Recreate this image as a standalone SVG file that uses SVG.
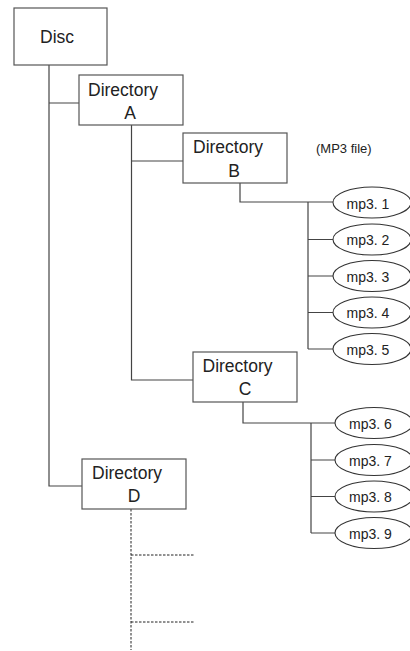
<svg xmlns="http://www.w3.org/2000/svg" width="410" height="651" viewBox="0 0 410 651">
<style>
.box{fill:#fff;stroke:#555;stroke-width:1.2}
.el{fill:#fff;stroke:#333;stroke-width:1.1}
.ln{fill:none;stroke:#444;stroke-width:1.2}
.dash{fill:none;stroke:#222;stroke-width:1;stroke-dasharray:2.5 1.5}
.t{font-family:"Liberation Sans",Arial,sans-serif;font-size:17.5px;fill:#222}
.m{font-family:"Liberation Sans",Arial,sans-serif;font-size:14px;fill:#222}
.s{font-family:"Liberation Sans",Arial,sans-serif;font-size:13px;fill:#222}
</style>
<rect width="410" height="651" fill="#fff"/>
<g id="connectors">
<path class="ln" d="M49,65V486H82M49,103H79"/>
<path class="ln" d="M131.5,125V380H193M131.5,161H183"/>
<path class="ln" d="M240,183V202H333M308,202V349M308,239.5H333M308,276H333M308,312.5H333M308,349H333"/>
<path class="ln" d="M243,402V423H335M311,423V533M311,460H335M311,496.5H335M311,533H335"/>
<path class="dash" d="M131,509V650M131,555H195M131,622H195"/>
</g>
<g id="disc"><rect class="box" x="14" y="8" width="93" height="57"/><text class="t" x="40" y="43">Disc</text></g>
<g id="dirA"><rect class="box" x="79" y="75" width="104" height="50"/><text class="t" x="88" y="96">Directory</text><text class="t" x="130" y="119" text-anchor="middle">A</text></g>
<g id="dirB"><rect class="box" x="183" y="133" width="104" height="50"/><text class="t" x="193" y="153">Directory</text><text class="t" x="234" y="177" text-anchor="middle">B</text></g>
<g id="dirC"><rect class="box" x="193" y="352" width="104" height="50"/><text class="t" x="202.5" y="372">Directory</text><text class="t" x="245" y="395" text-anchor="middle">C</text></g>
<g id="dirD"><rect class="box" x="82" y="459" width="104" height="50"/><text class="t" x="92" y="479">Directory</text><text class="t" x="134" y="502" text-anchor="middle">D</text></g>
<g id="label"><text class="s" x="316" y="153">(MP3 file)</text></g>
<g id="mp3-1"><ellipse class="el" cx="372" cy="202.5" rx="39" ry="15.5"/><text class="m" x="346.5" y="208.5">mp3. 1</text></g>
<g id="mp3-2"><ellipse class="el" cx="372" cy="239.5" rx="39" ry="15.5"/><text class="m" x="346.5" y="245">mp3. 2</text></g>
<g id="mp3-3"><ellipse class="el" cx="372" cy="276" rx="39" ry="15.5"/><text class="m" x="346.5" y="281.5">mp3. 3</text></g>
<g id="mp3-4"><ellipse class="el" cx="372" cy="312.5" rx="39" ry="15.5"/><text class="m" x="346.5" y="318">mp3. 4</text></g>
<g id="mp3-5"><ellipse class="el" cx="372" cy="349" rx="39" ry="15.5"/><text class="m" x="346.5" y="354.5">mp3. 5</text></g>
<g id="mp3-6"><ellipse class="el" cx="374" cy="423" rx="39" ry="15.5"/><text class="m" x="349" y="428.5">mp3. 6</text></g>
<g id="mp3-7"><ellipse class="el" cx="374" cy="460" rx="39" ry="15.5"/><text class="m" x="349" y="465.5">mp3. 7</text></g>
<g id="mp3-8"><ellipse class="el" cx="374" cy="496.5" rx="39" ry="15.5"/><text class="m" x="349" y="502">mp3. 8</text></g>
<g id="mp3-9"><ellipse class="el" cx="374" cy="533" rx="39" ry="15.5"/><text class="m" x="349" y="538.5">mp3. 9</text></g>
</svg>
